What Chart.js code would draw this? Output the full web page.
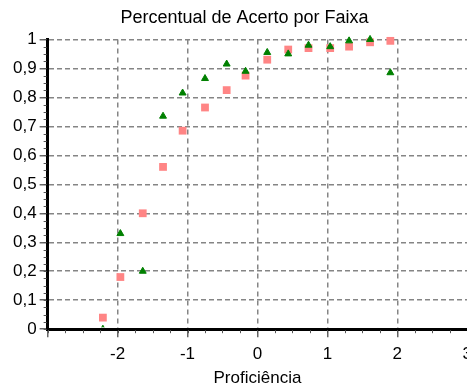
<!DOCTYPE html>
<html>
<head>
<meta charset="utf-8">
<script src="https://cdn.jsdelivr.net/npm/chart.js@4/dist/chart.umd.min.js"></script>
<style>
  html, body { margin: 0; padding: 0; background: #fff; overflow: hidden; }
  #wrap { width: 467px; height: 387px; overflow: hidden; }
</style>
</head>
<body>
<div id="wrap"><canvas id="myChart" width="479" height="387"></canvas></div>
<script>
// values
const proficiencia = [-2.21, -1.96, -1.64, -1.35, -1.07, -0.75, -0.44, -0.17, 0.14, 0.44, 0.73, 1.04, 1.31, 1.61, 1.9];
const acertoRosa = [0.04, 0.18, 0.40, 0.56, 0.685, 0.765, 0.825, 0.875, 0.93, 0.965, 0.97, 0.97, 0.975, 0.99, 0.995];
const acertoVerde = [0.0, 0.33, 0.2, 0.735, 0.815, 0.865, 0.915, 0.89, 0.955, 0.95, 0.98, 0.975, 0.995, 1.0, 0.885];

const xTickLabels = ['', '-2', '-1', '0', '1', '2', '3'];
const yTickLabels = ['0', '0,1', '0,2', '0,3', '0,4', '0,5', '0,6', '0,7', '0,8', '0,9', '1'];

const toPoints = (ys) => proficiencia.map((x, i) => ({ x: x, y: ys[i] }));

const font = { family: 'Liberation Sans, Arial, sans-serif', size: 17 };

// small minor tick marks along both axes
const minorTicks = {
    id: 'minorTicks',
    afterDatasetsDraw(chart) {
        const { ctx, scales: { x, y } } = chart;
        ctx.save();
        ctx.strokeStyle = '#555';
        ctx.lineWidth = 1;
        ctx.beginPath();
        for (let v = x.min; v <= x.max + 1e-9; v += 0.25) {
            const px = Math.round(x.getPixelForValue(v)) + 0.5;
            ctx.moveTo(px, y.bottom + 1);
            ctx.lineTo(px, y.bottom + 4);
        }
        for (let v = y.min; v <= y.max + 1e-9; v += 0.025) {
            const py = Math.round(y.getPixelForValue(v)) + 0.5;
            ctx.moveTo(x.left - 4, py);
            ctx.lineTo(x.left - 1, py);
        }
        ctx.stroke();
        ctx.restore();
    },
};

const ctx = document.getElementById('myChart').getContext('2d');
const myChart = new Chart(ctx, {
    type: 'scatter',
    data: {
        datasets: [{
            label: 'verde',
            data: toPoints(acertoVerde),
            pointStyle: 'triangle',
            pointRadius: 4,
            backgroundColor: '#008000',
            borderColor: '#008000',
            borderWidth: 1,
            order: 0,
            // the point sitting on the axis only peeks out a little
            clip: { left: false, top: false, right: false, bottom: -2 },
        }, {
            label: 'rosa',
            data: toPoints(acertoRosa),
            pointStyle: 'rect',
            pointRadius: 5.5,
            backgroundColor: '#ff8585',
            borderColor: '#ff8585',
            borderWidth: 0,
            order: 1,
            clip: false,
        }],
    },
    options: {
        responsive: false,
        animation: false,
        events: [],
        layout: { padding: { left: 10, right: 0, top: 0, bottom: 0 } },
        plugins: {
            legend: { display: false },
            tooltip: { enabled: false },
            title: {
                display: true,
                text: 'Percentual de Acerto por Faixa',
                color: '#000',
                font: { ...font, size: 18, weight: 'normal' },
                padding: { top: 7.4, bottom: 10.4 },
            },
        },
        scales: {
            x: {
                type: 'linear',
                min: -3,
                max: 3,
                ticks: {
                    stepSize: 1,
                    color: '#000',
                    font: font,
                    padding: 7,
                    maxRotation: 0,
                    autoSkip: false,
                    callback: (value, index) => xTickLabels[index],
                },
                grid: {
                    color: '#858585',
                    lineWidth: 1.5,
                    tickLength: 8,
                    tickColor: '#666',
                },
                border: { display: true, color: '#000', width: 3, dash: [5, 4] },
                title: {
                    display: true,
                    text: 'Proficiência',
                    color: '#000',
                    font: font,
                    padding: { top: -3, bottom: -2 },
                },
            },
            y: {
                type: 'linear',
                min: 0,
                max: 1,
                ticks: {
                    stepSize: 0.1,
                    color: '#000',
                    font: font,
                    padding: 3,
                    autoSkip: false,
                    callback: (value, index) => yTickLabels[index],
                },
                grid: {
                    color: '#858585',
                    lineWidth: 1.5,
                    tickLength: 8,
                    tickColor: '#666',
                },
                border: { display: true, color: '#000', width: 3, dash: [5, 3] },
            },
        },
    },
    plugins: [minorTicks],
});
</script>
</body>
</html>
